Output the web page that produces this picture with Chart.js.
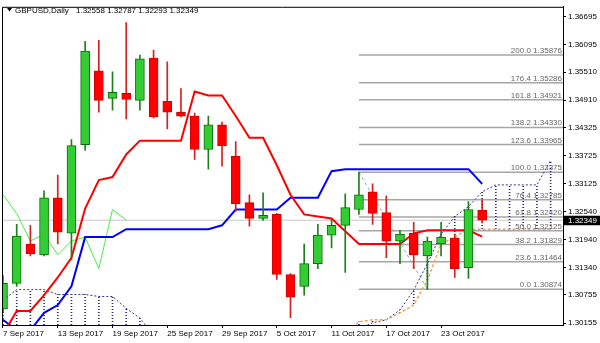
<!DOCTYPE html>
<html>
<head>
<meta charset="utf-8">
<script src="https://cdn.jsdelivr.net/npm/chart.js@4.4.0/dist/chart.umd.min.js"></script>
<style>
  html, body { margin: 0; padding: 0; background: #fff; }
  #wrap { width: 600px; height: 343px; position: relative; }
</style>
</head>
<body>
<div id="wrap"><canvas id="chart"></canvas></div>
<script>
// daily bars, 7 Sep - 26 Oct 2017
const dates = ['7 Sep', '8 Sep', '11 Sep', '12 Sep', '13 Sep', '14 Sep', '15 Sep', '18 Sep', '19 Sep', '20 Sep',
  '21 Sep', '22 Sep', '25 Sep', '26 Sep', '27 Sep', '28 Sep', '29 Sep', '2 Oct', '3 Oct', '4 Oct',
  '5 Oct', '6 Oct', '9 Oct', '10 Oct', '11 Oct', '12 Oct', '13 Oct', '16 Oct', '17 Oct', '18 Oct',
  '19 Oct', '20 Oct', '23 Oct', '24 Oct', '25 Oct', '26 Oct'];
const open = [1.30456, 1.31002, 1.31842, 1.31611, 1.32830, 1.32073, 1.33964, 1.35540, 1.34951, 1.35056,
  1.34909, 1.35813, 1.34888, 1.34657, 1.34573, 1.33859, 1.34384, 1.33712, 1.32725, 1.32388,
  1.32473, 1.31191, 1.30939, 1.31422, 1.32031, 1.32241, 1.32578, 1.32956, 1.32515, 1.31905,
  1.32073, 1.31590, 1.31842, 1.31968, 1.31338, 1.32558];
const high = [1.31170, 1.32262, 1.32241, 1.32977, 1.33313, 1.34069, 1.36170, 1.36191, 1.35519, 1.36569,
  1.35876, 1.35981, 1.35729, 1.35161, 1.34636, 1.34573, 1.34447, 1.34027, 1.32893, 1.32935,
  1.32494, 1.31212, 1.31842, 1.32262, 1.32367, 1.32914, 1.33375, 1.33124, 1.32872, 1.32136,
  1.32304, 1.31989, 1.32304, 1.32052, 1.32746, 1.32787];
const low = [1.30400, 1.30939, 1.31590, 1.31590, 1.31842, 1.31506, 1.33838, 1.34657, 1.34699, 1.34510,
  1.34699, 1.34531, 1.34300, 1.34552, 1.33649, 1.33439, 1.33502, 1.32536, 1.32220, 1.32346,
  1.31086, 1.30267, 1.30750, 1.31317, 1.31758, 1.31233, 1.32473, 1.32262, 1.31548, 1.31422,
  1.31317, 1.30874, 1.31590, 1.31128, 1.31107, 1.32293];
const close = [1.31002, 1.32010, 1.31632, 1.32830, 1.32094, 1.33943, 1.35960, 1.34909, 1.35077, 1.34930,
  1.35792, 1.34552, 1.34657, 1.34573, 1.33859, 1.34384, 1.33943, 1.32704, 1.32388, 1.32452,
  1.31191, 1.30708, 1.31422, 1.32031, 1.32241, 1.32620, 1.32893, 1.32494, 1.31905, 1.32052,
  1.31611, 1.31905, 1.31989, 1.31317, 1.32578, 1.32349];

// ichimoku lines (values below 1.3012 are off the bottom of the chart)
const tenkan = [1.29910, 1.30414, 1.30414, 1.30750, 1.31128, 1.31548, 1.32599, 1.33208, 1.33271, 1.33754,
  1.34048, 1.34048, 1.34048, 1.34048, 1.35098, 1.35014, 1.35014, 1.34573, 1.34111, 1.34111,
  1.33523, 1.32893, 1.32473, 1.32431, 1.32388, 1.32115, 1.31842, 1.31842, 1.31842, 1.31842,
  1.32070, 1.32135, 1.32135, 1.32135, 1.32135, 1.31999];
const kijun = [1.30225, 1.30000, 1.30000, 1.30372, 1.30540, 1.30939, 1.31989, 1.31989, 1.31989, 1.32157,
  1.32157, 1.32157, 1.32157, 1.32157, 1.32157, 1.32157, 1.32241, 1.32578, 1.32578, 1.32578,
  1.32578, 1.32830, 1.32830, 1.32830, 1.33397, 1.33439, 1.33439, 1.33439, 1.33439, 1.33439,
  1.33439, 1.33439, 1.33439, 1.33439, 1.33439, 1.33124];
const chikou = [1.32893, 1.32494, 1.31905, 1.32052, 1.31611, 1.31905, 1.31989, 1.31317, 1.32578, 1.32349];
const spanA = [1.29900, 1.29900, 1.29900, 1.29900, 1.29900, 1.29900, 1.29900, 1.29900, 1.29900, 1.29900,
  1.29900, 1.29900, null, null, null, null, null, null, null, null,
  null, null, null, null, null, 1.29900, 1.30182, 1.30224, 1.30224, 1.30372,
  1.30540, 1.31065, 1.31842, 1.31989, 1.32157, 1.32157, 1.32157, 1.32157, 1.32157, 1.32157, 1.32157];
const spanB = [1.30638, 1.30869, 1.30869, 1.30869, 1.30764, 1.30764, 1.30764, 1.30722, 1.30722, 1.30470,
  1.30260, 1.29900, null, null, null, null, null, null, null, null,
  null, null, null, null, null, 1.29900, 1.30030, 1.30161, 1.30224, 1.30435,
  1.30855, 1.31422, 1.32052, 1.32431, 1.32641, 1.32956, 1.33103, 1.33103, 1.33103, 1.33103, 1.33628];

// fibonacci drawn from 13 Oct high to 20 Oct low
const fibLevels = ['200.0', '176.4', '161.8', '138.2', '123.6', '100.0', '76.4', '61.8', '50.0', '38.2', '23.6', '0.0'];
const fibPrices = [1.35876, 1.35286, 1.34921, 1.34330, 1.33965, 1.33375, 1.32785, 1.32420, 1.32125, 1.31829, 1.31464, 1.30874];
const bid = 1.32349;

const yTicks = [1.36695, 1.36095, 1.35510, 1.34910, 1.34325, 1.33725, 1.33125, 1.32540, 1.31940, 1.31340, 1.30755, 1.30155];
const xTickIndex = [0, 4, 8, 12, 16, 20, 24, 28, 32];
const xTickLabels = ['7 Sep 2017', '13 Sep 2017', '19 Sep 2017', '25 Sep 2017', '29 Sep 2017',
  '5 Oct 2017', '11 Oct 2017', '17 Oct 2017', '23 Oct 2017'];

const FONT = '"Liberation Sans", Arial, sans-serif';
const up = (i) => close[i] >= open[i];

// dotted fill for the cloud hatch lines
const pc = document.createElement('canvas');
pc.width = 1; pc.height = 3;
const pctx = pc.getContext('2d');
pctx.fillStyle = '#26267a';
pctx.fillRect(0, 0, 1, 1);
const ctx = document.getElementById('chart').getContext('2d');
const hatch = ctx.createPattern(pc, 'repeat');

const hatchData = [];
for (let i = 0; i < spanA.length; i++) {
  if (spanA[i] !== null && spanB[i] !== null) hatchData.push({x: i, y: [spanA[i], spanB[i]]});
}

const series = (arr) => arr.map((v, i) => ({x: i, y: v}));

const datasets = [
  {
    type: 'bar', label: 'body', order: 0, grouped: false, barThickness: 9, borderSkipped: false, borderWidth: 1,
    data: dates.map((d, i) => ({x: i, y: [open[i], close[i]]})),
    backgroundColor: dates.map((d, i) => up(i) ? '#32cd32' : '#ff0000'),
    borderColor: dates.map((d, i) => up(i) ? '#0b6b0b' : '#d40000')
  },
  {
    type: 'bar', label: 'wick', order: 1, grouped: false, barThickness: 1, borderWidth: 0,
    data: dates.map((d, i) => ({x: i, y: [low[i], high[i]]})),
    backgroundColor: dates.map((d, i) => up(i) ? '#1f7f1f' : '#d62020')
  },
  {type: 'line', label: 'tenkan', order: 3, data: series(tenkan), borderColor: '#ff0000', borderWidth: 2},
  {type: 'line', label: 'kijun', order: 3, data: series(kijun), borderColor: '#0000ff', borderWidth: 2},
  {type: 'line', label: 'chikou', order: 3, data: series(chikou), borderColor: '#44f044', borderWidth: 1},
  {type: 'line', label: 'spanA', order: 4, data: series(spanA), borderColor: '#f4a460', borderWidth: 1.5, borderDash: [3, 2]},
  {type: 'line', label: 'spanB', order: 4, data: series(spanB), borderColor: '#33338f', borderWidth: 1, borderDash: [2, 2]},
  {
    type: 'bar', label: 'cloud', order: 6, grouped: false, barThickness: 1, borderWidth: 0,
    data: hatchData, backgroundColor: hatch
  },
  {type: 'line', label: 'fibline', order: 7, data: [{x: 26, y: fibPrices[5]}, {x: 31, y: fibPrices[11]}],
    borderColor: '#a0a0a0', borderWidth: 1, borderDash: [3, 3]},
  {type: 'line', label: 'bid', order: 9, data: [{x: -1, y: bid}, {x: 42, y: bid}], borderColor: '#c8c8c8', borderWidth: 1}
];

fibPrices.forEach(function (p) {
  datasets.push({type: 'line', label: 'fib', order: 8, data: [{x: 26, y: p}, {x: 42, y: p}],
    borderColor: '#a6a6a6', borderWidth: 1.5});
});

datasets.forEach(function (d) {
  d.clip = 0;
  if (d.type === 'line') { d.pointRadius = 0; d.tension = 0; d.fill = false; }
});

// title, fib texts, price box, left/top frame
const extras = {
  id: 'extras',
  afterDatasetsDraw(chart) {
    const c = chart.ctx;
    const area = chart.chartArea;
    const y = chart.scales.y;
    c.save();
    c.font = '8px ' + FONT;
    c.fillStyle = '#666666';
    c.textAlign = 'right';
    c.textBaseline = 'alphabetic';
    fibPrices.forEach(function (p, i) {
      c.fillText(fibLevels[i] + ' ' + p.toFixed(5), area.right - 1, y.getPixelForValue(p) - 2);
    });
    c.restore();
  },
  afterDraw(chart) {
    const c = chart.ctx;
    const area = chart.chartArea;
    const y = chart.scales.y;
    c.save();
    c.strokeStyle = '#000';
    c.lineWidth = 1;
    c.beginPath();
    c.moveTo(area.left + 0.5, area.bottom);
    c.lineTo(area.left + 0.5, area.top + 0.5);
    c.lineTo(area.right, area.top + 0.5);
    c.stroke();

    c.fillStyle = '#000';
    c.beginPath();
    c.moveTo(7, 8); c.lineTo(12, 8); c.lineTo(9.5, 11.5);
    c.closePath();
    c.fill();
    c.font = '8px ' + FONT;
    c.textBaseline = 'alphabetic';
    c.fillText('GBPUSD,Daily', 15, 12.5);
    c.fillText([open[35], high[35], low[35], close[35]].map(v => v.toFixed(5)).join(' '), 76, 12.5);

    const by = y.getPixelForValue(bid);
    c.fillRect(area.right + 1, by - 4.5, 37, 9.5);
    c.fillStyle = '#fff';
    c.textBaseline = 'middle';
    c.fillText(bid.toFixed(5), area.right + 5, by + 0.5);
    c.restore();
  }
};

new Chart(ctx, {
  type: 'bar',
  data: {datasets: datasets},
  plugins: [extras],
  options: {
    responsive: true,
    maintainAspectRatio: false,
    animation: false,
    layout: {padding: {left: 2, top: 2, right: 0, bottom: 0}},
    plugins: {legend: {display: false}, tooltip: {enabled: false}},
    scales: {
      x: {
        type: 'linear',
        offset: false,
        min: -0.073,
        max: 40.906,
        grid: {drawOnChartArea: false, drawTicks: true, tickLength: 3, color: '#000', offset: false},
        border: {display: true, color: '#000', width: 1},
        afterBuildTicks(scale) { scale.ticks = xTickIndex.map(v => ({value: v})); },
        afterFit(scale) { scale.height = 18; },
        ticks: {
          autoSkip: false, maxRotation: 0, align: 'start', padding: 1, color: '#000',
          font: {family: FONT, size: 8},
          callback: (v, i) => xTickLabels[i]
        }
      },
      y: {
        type: 'linear',
        position: 'right',
        min: 1.30113,
        max: 1.36905,
        beginAtZero: false,
        grid: {drawOnChartArea: false, drawTicks: true, tickLength: 3, color: '#000'},
        border: {display: true, color: '#000', width: 1},
        afterBuildTicks(scale) { scale.ticks = yTicks.map(v => ({value: v})); },
        afterFit(scale) { scale.width = 37; },
        ticks: {
          autoSkip: false, padding: 2, color: '#000',
          font: {family: FONT, size: 8},
          callback: (v) => v.toFixed(5)
        }
      }
    }
  }
});
</script>
</body>
</html>
